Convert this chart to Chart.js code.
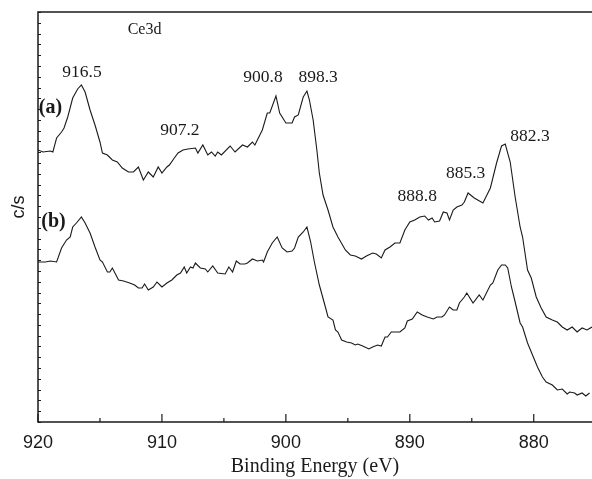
<!DOCTYPE html>
<html>
<head>
<meta charset="utf-8">
<script src="https://cdn.jsdelivr.net/npm/chart.js@4.4.0/dist/chart.umd.min.js"></script>
<style>
  html, body { margin: 0; padding: 0; background: #fff; }
</style>
</head>
<body>
<canvas id="xpsChart" width="592" height="479"></canvas>
<script>
// Ce 3d spectra, binding energy (eV) against intensity (offset, arbitrary units)
const energyA = [
  920.0, 919.6, 919.0, 918.8, 918.5, 918.1, 917.9, 917.6, 917.2, 916.8, 916.5, 916.2,
  915.8, 915.4, 915.0, 914.8, 914.4, 914.0, 913.6, 913.2, 912.7, 912.3, 911.9, 911.5,
  911.1, 910.7, 910.3, 910.0, 909.6, 909.4, 909.0, 908.7, 908.3, 907.9, 907.3, 907.1,
  906.7, 906.3, 906.0, 905.7, 905.5, 905.2, 904.5, 904.1, 903.5, 903.1, 902.7, 902.5,
  902.1, 901.9, 901.5, 901.3, 900.8, 900.5, 900.0, 899.5, 899.3, 899.0, 898.6, 898.3,
  898.1, 897.8, 897.5, 897.3, 897.0, 896.6, 896.2, 895.8, 895.2, 894.8, 894.4, 893.9,
  893.5, 893.0, 892.7, 892.3, 892.0, 891.6, 891.2, 890.8, 890.4, 890.0, 889.6, 889.2,
  888.8, 888.5, 888.2, 888.0, 887.6, 887.3, 887.0, 886.8, 886.5, 886.2, 885.8, 885.6,
  885.3, 884.8, 884.1, 883.5, 883.0, 882.6, 882.3, 881.9, 881.5, 881.1, 880.9, 880.5,
  880.2, 879.8, 879.4, 879.0, 878.5, 878.1, 877.7, 877.3, 876.9, 876.5, 876.1, 875.7,
  875.3
];
const countsA = [
  272, 270, 271, 270, 284, 290, 294, 305, 324, 333, 337, 330,
  312, 297, 280, 269, 267, 262, 260, 254, 250, 250, 255, 242,
  250, 245, 255, 249, 255, 257, 264, 269, 272, 273, 274, 269,
  277, 267, 270, 266, 270, 267, 276, 270, 277, 275, 280, 277,
  287, 292, 309, 309, 326, 309, 299, 299, 305, 307, 325, 331,
  322, 302, 272, 249, 227, 212, 195, 185, 172, 167, 166, 163,
  166, 169, 168, 164, 172, 175, 179, 179, 192, 200, 202, 205,
  206, 202, 204, 200, 201, 210, 209, 202, 212, 215, 217, 220,
  229, 224, 219, 234, 259, 276, 278, 260, 225, 195, 185, 152,
  144, 125, 114, 105, 102, 100, 95, 92, 95, 90, 94, 92,
  95
];
const energyB = [
  920.0, 919.4, 919.0, 918.5, 918.1, 917.7, 917.4, 917.2, 916.9, 916.5, 916.2, 915.8,
  915.4, 915.0, 914.8, 914.4, 914.2, 914.0, 913.5, 913.1, 912.6, 912.2, 911.9, 911.6,
  911.4, 911.1, 910.7, 910.4, 910.0, 909.6, 909.2, 908.8, 908.5, 908.2, 908.0, 907.7,
  907.5, 907.3, 906.9, 906.5, 906.3, 905.9, 905.5, 904.9, 904.6, 904.3, 904.0, 903.7,
  903.3, 903.1, 902.7, 902.3, 901.9, 901.8, 901.5, 901.1, 900.7, 900.3, 899.9, 899.5,
  899.3, 899.0, 898.6, 898.3, 898.0, 897.7, 897.3, 896.9, 896.6, 896.2, 896.0, 895.8,
  895.5, 895.1, 894.7, 894.4, 894.2, 893.8, 893.3, 893.0, 892.6, 892.3, 892.0, 891.8,
  891.5, 891.2, 890.8, 890.4, 890.2, 889.8, 889.4, 889.0, 888.6, 888.1, 887.8, 887.4,
  887.2, 886.8, 886.5, 886.2, 886.0, 885.6, 885.4, 884.9, 884.4, 884.1, 883.5, 883.3,
  882.9, 882.6, 882.3, 882.1, 881.8, 881.5, 881.1, 880.9, 880.5, 880.1, 879.7, 879.3,
  879.0, 878.5, 878.1, 877.7, 877.3, 877.1, 876.7, 876.5, 876.1, 875.8, 875.5
];
const countsB = [
  160, 160, 161, 160, 174, 182, 185, 195, 199, 205, 199, 189,
  175, 162, 160, 150, 150, 154, 142, 141, 139, 137, 134, 134,
  138, 132, 135, 140, 135, 139, 142, 147, 149, 155, 149, 155,
  154, 159, 154, 153, 150, 156, 149, 148, 155, 150, 161, 158,
  158, 159, 163, 161, 162, 160, 170, 179, 185, 174, 170, 171,
  174, 185, 190, 195, 180, 160, 137, 119, 105, 102, 92, 90,
  82, 80, 79, 77, 78, 76, 73, 75, 77, 76, 85, 85,
  90, 90, 90, 94, 101, 103, 110, 107, 105, 103, 105, 105,
  107, 115, 112, 112, 119, 125, 129, 119, 127, 122, 137, 139,
  152, 157, 157, 154, 135, 120, 99, 95, 79, 67, 55, 45,
  40, 37, 32, 33, 28, 30, 29, 27, 29, 26, 29
];

// text placed in data coordinates
const notes = [
  { text: 'Ce3d',  e: 911.4, v: 392, font: '16px "Liberation Serif"' },
  { text: '916.5', e: 916.45, v: 350, font: '17.5px "Liberation Serif"' },
  { text: '907.2', e: 908.55, v: 292, font: '17.5px "Liberation Serif"' },
  { text: '900.8', e: 901.85, v: 345, font: '17.5px "Liberation Serif"' },
  { text: '898.3', e: 897.4, v: 345, font: '17.5px "Liberation Serif"' },
  { text: '888.8', e: 889.4, v: 226, font: '17.5px "Liberation Serif"' },
  { text: '885.3', e: 885.5, v: 249, font: '17.5px "Liberation Serif"' },
  { text: '882.3', e: 880.3, v: 286, font: '17.5px "Liberation Serif"' },
  { text: '(a)',   e: 919.0, v: 314, font: 'bold 20px "Liberation Serif"' },
  { text: '(b)',   e: 918.75, v: 200, font: 'bold 20px "Liberation Serif"' },
  { text: 'c/s',   e: 921.55, v: 215, font: '18px "Liberation Sans"', rotate: true }
];

const toPoints = (xs, ys) => xs.map((x, i) => ({ x: x, y: ys[i] }));

// frame, inward tick marks and the text notes
const framePlugin = {
  id: 'frame',
  afterDraw(chart) {
    const { ctx, chartArea: a, scales: { x, y } } = chart;
    ctx.save();
    ctx.strokeStyle = '#1a1a1a';
    ctx.lineWidth = 1.5;
    ctx.beginPath();
    ctx.moveTo(a.right, a.top);
    ctx.lineTo(a.left, a.top);
    ctx.lineTo(a.left, a.bottom);
    ctx.lineTo(a.right, a.bottom);
    ctx.stroke();

    ctx.lineWidth = 1.2;
    ctx.beginPath();
    x.ticks.forEach(t => {
      const px = x.getPixelForValue(t.value);
      ctx.moveTo(px, a.bottom);
      ctx.lineTo(px, a.bottom - 8);
      const mid = t.value - 5;
      if (mid >= x.min) {
        const pm = x.getPixelForValue(mid);
        ctx.moveTo(pm, a.bottom);
        ctx.lineTo(pm, a.bottom - 4);
      }
    });
    y.ticks.forEach(t => {
      const py = Math.round(y.getPixelForValue(t.value)) + 0.5;
      ctx.moveTo(a.left, py);
      ctx.lineTo(a.left + 3, py);
    });
    ctx.stroke();

    ctx.fillStyle = '#1a1a1a';
    ctx.textAlign = 'center';
    ctx.textBaseline = 'middle';
    notes.forEach(n => {
      ctx.font = n.font;
      const px = x.getPixelForValue(n.e);
      const py = y.getPixelForValue(n.v);
      if (n.rotate) {
        ctx.save();
        ctx.translate(px, py);
        ctx.rotate(-Math.PI / 2);
        ctx.fillText(n.text, 0, 0);
        ctx.restore();
      } else {
        ctx.fillText(n.text, px, py);
      }
    });
    ctx.restore();
  }
};

const lineStyle = {
  borderColor: '#1a1a1a',
  borderWidth: 1.1,
  pointRadius: 0,
  fill: false,
  tension: 0
};

new Chart(document.getElementById('xpsChart'), {
  type: 'line',
  data: {
    datasets: [
      Object.assign({ label: '(a)', data: toPoints(energyA, countsA) }, lineStyle),
      Object.assign({ label: '(b)', data: toPoints(energyB, countsB) }, lineStyle)
    ]
  },
  options: {
    responsive: false,
    animation: false,
    parsing: false,
    layout: { padding: { top: 12, right: 0, bottom: 0, left: 0 } },
    plugins: { legend: { display: false }, tooltip: { enabled: false } },
    scales: {
      x: {
        type: 'linear',
        reverse: true,
        min: 875.3,
        max: 920,
        afterFit: s => { s.height = 57; },
        border: { display: false },
        grid: { display: false, drawTicks: false },
        ticks: {
          stepSize: 10,
          includeBounds: false,
          autoSkip: false,
          maxRotation: 0,
          padding: 10,
          color: '#1a1a1a',
          font: { family: '"Liberation Sans", Arial, sans-serif', size: 18 }
        },
        title: {
          display: true,
          text: 'Binding Energy (eV)',
          color: '#1a1a1a',
          padding: { top: -3, bottom: 0 },
          font: { family: '"Liberation Serif", serif', size: 20 }
        }
      },
      y: {
        min: 0,
        max: 410,
        afterFit: s => { s.width = 38; },
        border: { display: false },
        grid: { display: false },
        ticks: { display: false, stepSize: 410 / 38 }
      }
    }
  },
  plugins: [framePlugin]
});
</script>
</body>
</html>
